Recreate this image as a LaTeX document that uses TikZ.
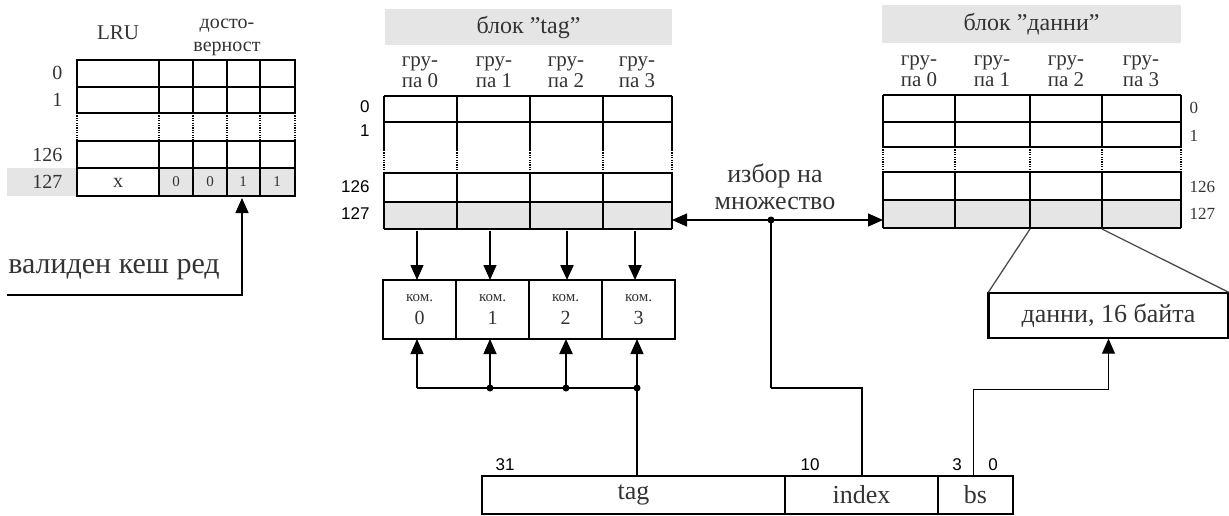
\documentclass[tikz,border=0pt]{standalone}
\usepackage{fontspec}
\setmainfont{Liberation Serif}
\setsansfont{Liberation Sans}
\usetikzlibrary{arrows.meta,positioning}
\tikzset{
	tbl/.style={line width=1.6pt},
	thk/.style={line width=2.8pt},
	dts/.style={line width=1.6pt, dash pattern=on 1.2pt off 1.2pt},
	wire/.style={line width=1.3pt},
	arr/.style={line width=1.3pt, -{Triangle[length=15pt,width=13pt]}},
	hdr/.style={fill=black!10, inner sep=0pt, text=black!80, font=\fontsize{24}{24}\selectfont},
	grp/.style={align=center, text=black!80, font=\fontsize{21}{21}\selectfont},
	txt/.style={text=black!80, font=\fontsize{20}{23}\selectfont},
	big/.style={text=black!80, font=\fontsize{26}{27}\selectfont},
	rowno/.style={font=\sffamily\fontsize{17}{17}\selectfont},
	cmp/.style={draw, line width=1.8pt, outer sep=0pt, inner sep=0pt, minimum width=73pt, minimum height=59pt, align=center, text=black!80, font=\fontsize{20}{23}\selectfont},
	fld/.style={draw, line width=1.3pt, outer sep=0pt, inner sep=0pt, minimum height=38pt, text=black!80, font=\fontsize{26}{26}\selectfont}
}
\begin{document}
\begin{tikzpicture}[x=1pt,y=-1pt]
	\useasboundingbox (0,0) rectangle (1229,515);
	% LRU / validity table
	\fill[black!10] (7,168) rectangle (77,196);
	\fill[black!10] (159,168) rectangle (295,196);
	\draw[tbl] (77,60) rectangle (295,87) (77,87) rectangle (295,113) (77,141) rectangle (295,168) (77,168) rectangle (295,196);
	\draw[tbl] (159,60) -- (159,113) (227,60) -- (227,113) (260,60) -- (260,113);
	\draw[tbl] (159,141) -- (159,196) (227,141) -- (227,196) (260,141) -- (260,196);
	\draw[thk] (193,60) -- (193,113) (193,141) -- (193,196);
	\draw[dts] (77,113) -- (77,141) (159,113) -- (159,141) (193,113) -- (193,141) (227,113) -- (227,141) (260,113) -- (260,141) (295,113) -- (295,141);
	\node[txt, font=\fontsize{21}{23}\selectfont] (lru) at (118,33) {LRU};
	\node[txt, align=center] (valid) at (227,37) {досто-\\верност};
	\node[txt, anchor=east] at (66,73) {0};
	\node[txt, anchor=east] at (66,100) {1};
	\node[txt, anchor=east] at (66,155) {126};
	\node[txt, anchor=east] at (66,182) {127};
	\node[txt] at (118,183) {x};
	\node[txt, font=\fontsize{15}{15}\selectfont] at (176,182) {0};
	\node[txt, font=\fontsize{15}{15}\selectfont] at (210,182) {0};
	\node[txt, font=\fontsize{15}{15}\selectfont] at (243,182) {1};
	\node[txt, font=\fontsize{15}{15}\selectfont] at (277,182) {1};
	\coordinate (vbit) at (242,198);
	\coordinate (vend) at (7,295);
	\draw[arr] (vend) -| (vbit);
	\node[text=black!80, font=\fontsize{30}{30}\selectfont] (vtxt) at (114,270) {валиден кеш ред};
	% tag block
	\node[hdr, minimum width=287pt, minimum height=36pt] (taghdr) at (528.5,27) {блок ”tag”};
	\node[grp] at (420,72) {гру-\\па 0};
	\node[grp] at (494,72) {гру-\\па 1};
	\node[grp] at (566,72) {гру-\\па 2};
	\node[grp] at (637,72) {гру-\\па 3};
	\fill[black!10] (384,202) rectangle (672,229);
	\draw[tbl] (384,96) -- (672,96) (384,122) -- (672,122) (384,202) -- (672,202) (384,229) -- (672,229);
	\draw[thk] (384,173) -- (672,173);
	\draw[tbl] (384,96) -- (384,150) (457,96) -- (457,150) (530,96) -- (530,150) (603,96) -- (603,150) (672,96) -- (672,150);
	\draw[tbl] (384,173) -- (384,229) (457,173) -- (457,229) (530,173) -- (530,229) (603,173) -- (603,229) (672,173) -- (672,229);
	\draw[dts] (384,150) -- (384,173) (457,150) -- (457,173) (530,150) -- (530,173) (603,150) -- (603,173) (672,150) -- (672,173);
	\node[rowno, anchor=east] at (373,107) {0};
	\node[rowno, anchor=east] at (373,131) {1};
	\node[rowno, anchor=east] at (373,187) {126};
	\node[rowno, anchor=east] at (373,214) {127};
	% data block
	\node[hdr, minimum width=299pt, minimum height=38pt] (dathdr) at (1031.5,24) {блок ”данни”};
	\node[grp] at (919,71) {гру-\\па 0};
	\node[grp] at (992,71) {гру-\\па 1};
	\node[grp] at (1066,71) {гру-\\па 2};
	\node[grp] at (1141,71) {гру-\\па 3};
	\fill[black!10] (883,200) rectangle (1181,228);
	\draw[tbl] (883,95) -- (1181,95) (883,122) -- (1181,122) (883,147) -- (1181,147) (883,200) -- (1181,200) (883,228) -- (1181,228);
	\draw[thk] (883,172) -- (1181,172);
	\draw[tbl] (883,95) -- (883,147) (955,95) -- (955,147) (1102,95) -- (1102,147) (1181,95) -- (1181,147);
	\draw[tbl] (883,172) -- (883,228) (955,172) -- (955,228) (1102,172) -- (1102,228) (1181,172) -- (1181,228);
	\draw[thk] (1030,95) -- (1030,147) (1030,172) -- (1030,228);
	\draw[dts] (883,147) -- (883,172) (955,147) -- (955,172) (1030,147) -- (1030,172) (1102,147) -- (1102,172) (1181,147) -- (1181,172);
	\node[txt, anchor=west, font=\fontsize{17}{17}\selectfont] at (1186,108) {0};
	\node[txt, anchor=west, font=\fontsize{17}{17}\selectfont] at (1186,136) {1};
	\node[txt, anchor=west, font=\fontsize{17}{17}\selectfont] at (1186,187) {126};
	\node[txt, anchor=west, font=\fontsize{17}{17}\selectfont] at (1186,214) {127};
	% set select
	\coordinate (tagR) at (672,220);
	\coordinate (datL) at (883,220);
	\coordinate (sel) at (771,220);
	\draw[wire, {Triangle[length=15pt,width=13pt]}-{Triangle[length=15pt,width=13pt]}] (tagR) -- (datL);
	\fill (sel) circle (3.5pt);
	\node[big, align=center] (seltxt) at (775,187) {избор на\\множество};
	% comparators
	\node[cmp] (cmp0) at (419.5,309.5) {{\fontsize{15}{15}\selectfont ком.}\\0};
	\node[cmp, right=0pt of cmp0] (cmp1) {{\fontsize{15}{15}\selectfont ком.}\\1};
	\node[cmp, right=0pt of cmp1] (cmp2) {{\fontsize{15}{15}\selectfont ком.}\\2};
	\node[cmp, right=0pt of cmp2] (cmp3) {{\fontsize{15}{15}\selectfont ком.}\\3};
	\coordinate (t0) at (417,231);
	\coordinate (t1) at (490,231);
	\coordinate (t2) at (567,231);
	\coordinate (t3) at (635,231);
	\draw[arr] (t0) -- (t0 |- cmp0.north);
	\draw[arr] (t1) -- (t1 |- cmp1.north);
	\draw[arr, line width=2.3pt] (t2) -- (t2 |- cmp2.north);
	\draw[arr, line width=2.3pt] (t3) -- (t3 |- cmp3.north);
	\coordinate (j0) at (417,388);
	\coordinate (j1) at (490,388);
	\coordinate (j2) at (566,388);
	\coordinate (j3) at (637,388);
	\draw[wire] (j0) -- (j3);
	\draw[arr] (j0) -- (j0 |- cmp0.south);
	\draw[arr] (j1) -- (j1 |- cmp1.south);
	\draw[arr, line width=2.3pt] (j2) -- (j2 |- cmp2.south);
	\draw[arr] (j3) -- (j3 |- cmp3.south);
	\fill (j1) circle (3.5pt) (j2) circle (3.5pt) (j3) circle (3.5pt);
	% address
	\node[fld, minimum width=303pt] (ftag) at (633.5,495) {tag};
	\node[fld, minimum width=153pt, right=0pt of ftag] (findex) {index};
	\node[fld, minimum width=75pt, right=0pt of findex] (fbs) {bs};
	\draw[line width=2.6pt] (ftag.north west) -- (fbs.north east);
	\node[rowno] at (505,465) {31};
	\node[rowno] at (810,465) {10};
	\node[rowno] at (957,465) {3};
	\node[rowno] at (993,465) {0};
	\draw[wire] (j3) -- (j3 |- ftag.north);
	\coordinate (ix) at (862,388);
	\draw[line width=2.2pt] (sel) -- (sel |- ix);
	\draw[wire] (sel |- ix) -- (ix) -- (ix |- findex.north);
	% data out
	\node[draw, line width=1.4pt, minimum width=239pt, minimum height=45pt, inner sep=0pt, big] (dbox) at (1108.5,315.5) {данни, 16 байта};
	\draw[line width=2.6pt] (dbox.north west) -- (dbox.south west);
	\coordinate (dc2) at (1030,229);
	\coordinate (dc3) at (1102,229);
	\draw[wire, black!70] (dc2) -- (dbox.north west);
	\draw[wire, black!70] (dc3) -- (dbox.north east);
	\coordinate (bj) at (973,389);
	\draw[arr, line width=1pt] (bj |- fbs.north) -- (bj) -| (dbox.south);
\end{tikzpicture}
\end{document}
